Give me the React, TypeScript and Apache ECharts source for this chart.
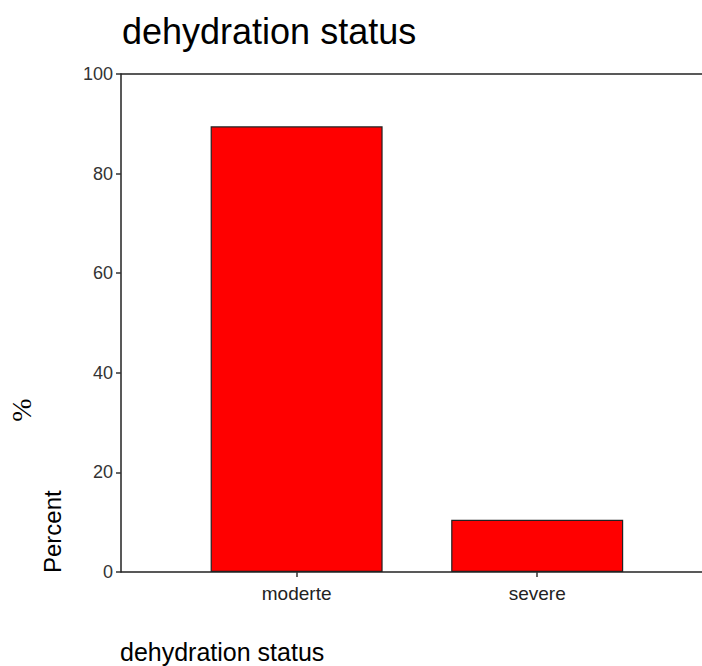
import React, { useEffect, useRef } from "react";
import * as echarts from "echarts";

const categories = ["moderte", "severe"];
const percents = [89.5, 10.5];
const yTicks = [0, 20, 40, 60, 80, 100];
const chartTitle = "dehydration status";
const xTitle = "dehydration status";
const yTitle = "Percent";
const yUnit = "%";

export default function App() {
  const ref = useRef<HTMLDivElement>(null);
  useEffect(() => {
    if (!ref.current) return;
    const chart = echarts.init(ref.current, null, { renderer: "svg" });
    const positions = categories.map((_, i) => i + 1);
    const font = "Arial, 'Liberation Sans', sans-serif";
    chart.setOption({
      animation: false,
      backgroundColor: "#ffffff",
      title: {
        text: chartTitle,
        left: 117,
        top: 8,
        textStyle: { fontFamily: font, fontSize: 36, fontWeight: "normal", color: "#000" },
      },
      grid: { left: 121, top: 74, right: 0, bottom: 94, containLabel: false },
      xAxis: [
        {
          type: "value",
          min: 0.27,
          max: 2.685,
          splitLine: { show: false },
          axisLine: { show: true, onZero: false, lineStyle: { color: "#222", width: 1.5 } },
          axisTick: { show: true, length: 5, customValues: positions, lineStyle: { color: "#333", width: 1.5 } },
          axisLabel: {
            show: true,
            customValues: positions,
            margin: 12,
            fontFamily: font,
            fontSize: 19,
            color: "#222",
            formatter: (v: number) => categories[Math.round(v) - 1] ?? "",
          },
        },
        {
          type: "value",
          position: "top",
          min: 0.27,
          max: 2.685,
          splitLine: { show: false },
          axisLine: { show: true, onZero: false, lineStyle: { color: "#222", width: 1.5 } },
          axisTick: { show: false },
          axisLabel: { show: false },
        },
      ],
      yAxis: {
        type: "value",
        min: 0,
        max: 100,
        interval: 20,
        splitLine: { show: false },
        axisLine: { show: true, lineStyle: { color: "#222", width: 1.5 } },
        axisTick: { show: true, length: 5, lineStyle: { color: "#333", width: 1.5 } },
        axisLabel: {
          margin: 8,
          fontFamily: font,
          fontSize: 18,
          color: "#333",
          formatter: (v: number) => (yTicks.includes(v) ? String(v) : ""),
        },
      },
      graphic: [
        {
          type: "text",
          x: 52,
          y: 573,
          rotation: Math.PI / 2,
          style: {
            text: yTitle,
            fontFamily: font,
            fontSize: 24,
            fill: "#000",
            textAlign: "left",
            textVerticalAlign: "middle",
          },
        },
        {
          type: "text",
          x: 21,
          y: 410,
          rotation: Math.PI / 2,
          style: {
            text: yUnit,
            fontFamily: "'Liberation Serif', 'Times New Roman', serif",
            fontSize: 28,
            fill: "#000",
            textAlign: "center",
            textVerticalAlign: "middle",
          },
        },
        {
          type: "text",
          x: 120,
          y: 652,
          style: {
            text: xTitle,
            fontFamily: font,
            fontSize: 25,
            fill: "#000",
            textAlign: "left",
            textVerticalAlign: "middle",
          },
        },
      ],
      series: [
        {
          type: "bar",
          xAxisIndex: 0,
          barWidth: 172,
          data: positions.map((p, i) => [p, percents[i]]),
          itemStyle: { color: "#ff0000", borderColor: "#222", borderWidth: 1.2 },
        },
      ],
    });
    return () => chart.dispose();
  }, []);
  return <div ref={ref} style={{ width: 702, height: 666, position: "absolute", left: 0, top: 0 }} />;
}
